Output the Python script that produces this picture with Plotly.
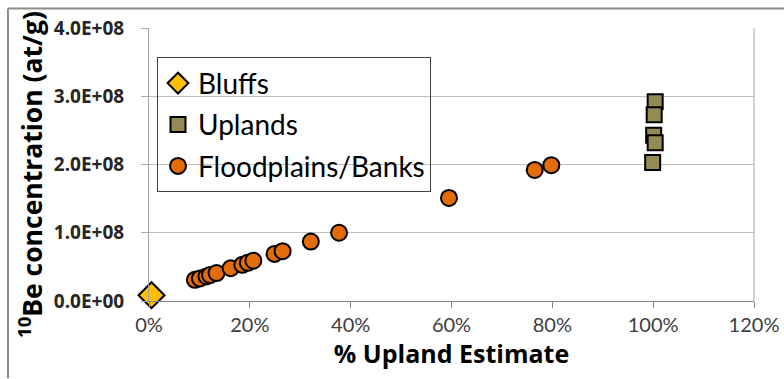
import plotly.graph_objects as go

# % upland estimate (x) and 10Be concentration in atoms/g (y)
bluffs_x = [0.5]
bluffs_y = [8.5e6]

uplands_x = [100.4, 100.2, 100.1, 100.4, 99.9]
uplands_y = [2.92e8, 2.73e8, 2.43e8, 2.32e8, 2.03e8]

flood_x = [9.1, 10.1, 11.4, 12.1, 13.4, 16.2, 18.5, 19.6, 20.7, 24.9,
           26.5, 32.1, 37.7, 59.5, 76.5, 79.8]
flood_y = [3.1e7, 3.3e7, 3.6e7, 3.8e7, 4.1e7, 4.8e7, 5.3e7, 5.6e7, 5.9e7, 6.9e7,
           7.3e7, 8.7e7, 1.0e8, 1.51e8, 1.92e8, 1.99e8]

x_ticks = [0, 20, 40, 60, 80, 100, 120]
x_ticklabels = [f"{v}%" for v in x_ticks]
y_ticks = [0, 1e8, 2e8, 3e8, 4e8]
y_ticklabels = [f"{v:.1E}" for v in y_ticks]

x_title = "% Upland Estimate"
y_title = "<sup>10</sup>Be concentration (at/g)"

FONT = "Lato"
BOLD_FONT = "Open Sans"
BLACK_LINE = dict(color="#000000", width=2)

fig = go.Figure()
fig.add_trace(go.Scatter(
    x=bluffs_x, y=bluffs_y, mode="markers", name="Bluffs", legendgroup="a",
    marker=dict(symbol="diamond", size=20, color="#FFC000", line=BLACK_LINE),
    cliponaxis=False))
fig.add_trace(go.Scatter(
    x=uplands_x, y=uplands_y, mode="markers", name="Uplands", legendgroup="b",
    marker=dict(symbol="square", size=15, color="#948A54", line=BLACK_LINE)))
fig.add_trace(go.Scatter(
    x=flood_x, y=flood_y, mode="markers", name="Floodplains/Banks", legendgroup="c",
    marker=dict(symbol="circle", size=16, color="#E36C09", line=BLACK_LINE)))

# plot area in pixels: x 149..754, y 27.5..301.5
L, R, T, B = 149, 754, 27.5, 301.5
W, H = R - L, B - T


def px_x(p):
    return (p - L) / W


def px_y(p):
    return (B - p) / H


frame = dict(color="#8C8C8C", width=2)
fig.add_shape(type="line", xref="paper", yref="paper",
              x0=px_x(8), x1=px_x(784), y0=px_y(8), y1=px_y(8), line=frame)
fig.add_shape(type="line", xref="paper", yref="paper",
              x0=px_x(8), x1=px_x(8), y0=px_y(8), y1=px_y(379), line=frame)
# right edge of the plot area
fig.add_shape(type="line", xref="paper", yref="paper", x0=1, x1=1, y0=0, y1=1,
              line=dict(color="#A6A6A6", width=1))

# vertical axis title
fig.add_annotation(
    text=y_title, textangle=-90, xref="paper", yref="paper",
    x=px_x(31), y=px_y(175), xanchor="center", yanchor="middle",
    showarrow=False,
    font=dict(family=BOLD_FONT, size=26.5, color="#000000", weight="bold"))

fig.update_layout(
    width=784, height=379,
    margin=dict(l=L, r=784 - R, t=T, b=379 - B),
    paper_bgcolor="white", plot_bgcolor="white",
    font=dict(family=FONT, color="#000000"),
    showlegend=True,
    legend=dict(
        x=px_x(157), y=px_y(57), xanchor="left", yanchor="top",
        bgcolor="rgba(0,0,0,0)", bordercolor="#404040", borderwidth=1,
        font=dict(family=FONT, size=28, color="#000000"),
        tracegroupgap=2, traceorder="grouped",
    ),
    xaxis=dict(
        range=[0, 120], tickvals=x_ticks, ticktext=x_ticklabels,
        automargin=False,
        showgrid=False, zeroline=False,
        showline=True, linecolor="#868686", linewidth=1, mirror=False,
        ticks="outside", ticklen=6, tickcolor="#868686",
        tickfont=dict(family=FONT, size=20, color="#404040"),
        title=dict(text=x_title, standoff=4,
                   font=dict(family=BOLD_FONT, size=25, weight="bold")),
    ),
    yaxis=dict(
        range=[0, 4e8], tickvals=y_ticks, ticktext=y_ticklabels,
        automargin=False,
        showgrid=True, gridcolor="#BFBFBF", gridwidth=1, zeroline=False,
        showline=True, linecolor="#A6A6A6", linewidth=1,
        ticks="outside", ticklen=7, tickcolor="#A6A6A6", ticklabelstandoff=13,
        tickfont=dict(family=BOLD_FONT, size=19, color="#262626", weight="bold"),
    ),
)

fig.write_html("out.html")
